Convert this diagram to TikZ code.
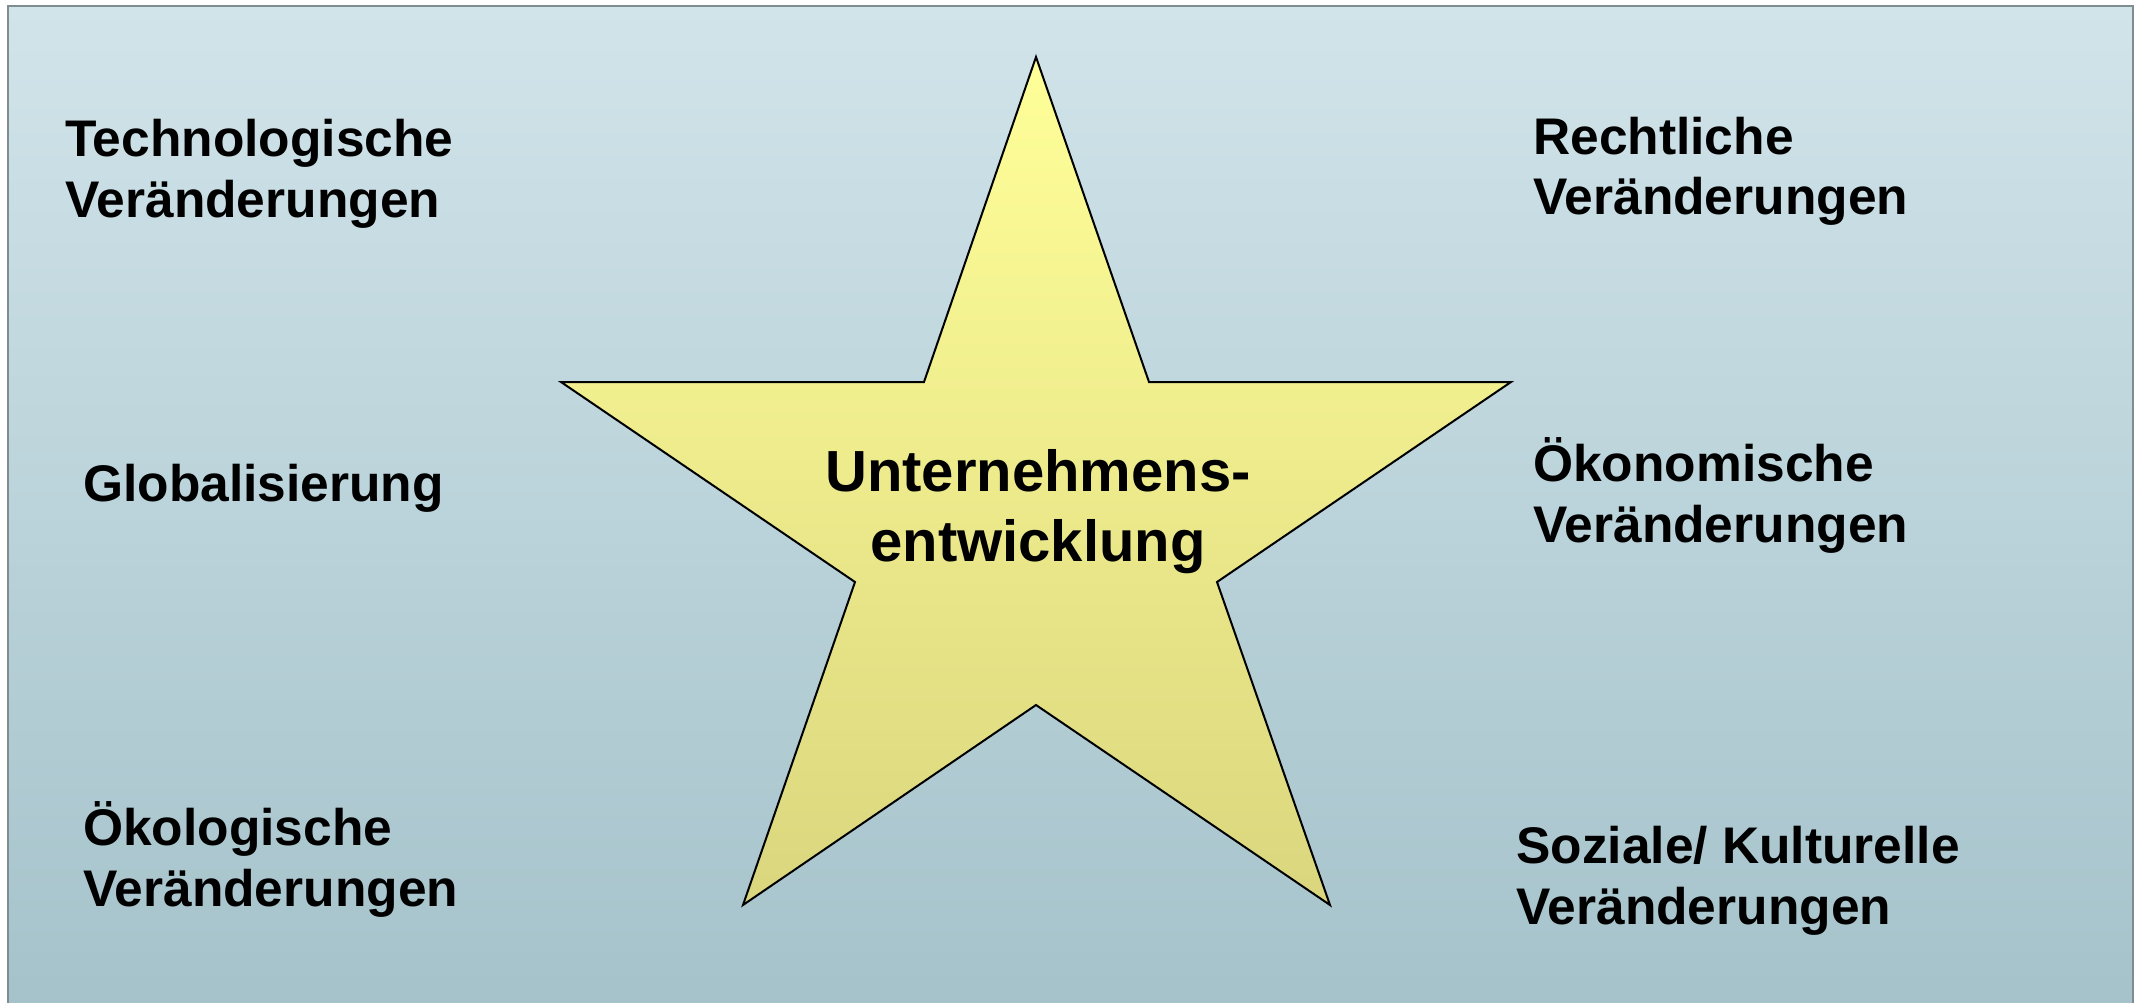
\documentclass[tikz,border=0pt]{standalone}
\usepackage{fontspec}
\setmainfont{Liberation Sans}
\definecolor{bgtop}{HTML}{D1E4EA}
\definecolor{bgbot}{HTML}{A5C2CA}
\definecolor{startop}{HTML}{FFFF99}
\definecolor{starbot}{HTML}{DAD67E}
\definecolor{frame}{HTML}{7F8C90}
\tikzset{
  lbl/.style={anchor=base west, inner sep=0pt, align=left, font=\fontsize{51.5}{61}\selectfont\bfseries, text=black},
  ctr/.style={anchor=base, inner sep=0pt, align=center, font=\fontsize{58}{70}\selectfont\bfseries, text=black}
}
\begin{document}
\begin{tikzpicture}[x=1pt,y=-1pt]
\useasboundingbox (0,0) rectangle (2137,1003);
\fill[white] (0,0) rectangle (2137,1003);
\shade[top color=bgtop, bottom color=bgbot] (8,6) rectangle (2133,1010);
\draw[frame, line width=1.5pt] (8,1010) -- (8,6) -- (2133,6) -- (2133,1010);
% star
\coordinate (p1) at (1036,57);
\coordinate (p2) at (1149,382);
\coordinate (p3) at (1511,382);
\coordinate (p4) at (1217,582);
\coordinate (p5) at (1330,905);
\coordinate (p6) at (1036,705);
\coordinate (p7) at (743,905);
\coordinate (p8) at (855,582);
\coordinate (p9) at (561,382);
\coordinate (p10) at (924,382);
\shade[top color=startop, bottom color=starbot] (p1) -- (p2) -- (p3) -- (p4) -- (p5) -- (p6) -- (p7) -- (p8) -- (p9) -- (p10) -- cycle;
\draw[black, line width=2pt, line join=miter] (p1) -- (p2) -- (p3) -- (p4) -- (p5) -- (p6) -- (p7) -- (p8) -- (p9) -- (p10) -- cycle;
\node[ctr] (center) at (1038,561) {Unternehmens-\\entwicklung};
\node[lbl] (tech) at (65,218) {Technologische\\Veränderungen};
\node[lbl] (glob) at (83,501) {Globalisierung};
\node[lbl] (oeko) at (83,906) {Ökologische\\Veränderungen};
\node[lbl] (recht) at (1533,215) {Rechtliche\\Veränderungen};
\node[lbl] (oekon) at (1533,542) {Ökonomische\\Veränderungen};
\node[lbl] (sozial) at (1516,924) {Soziale/ Kulturelle\\Veränderungen};
\end{tikzpicture}
\end{document}
